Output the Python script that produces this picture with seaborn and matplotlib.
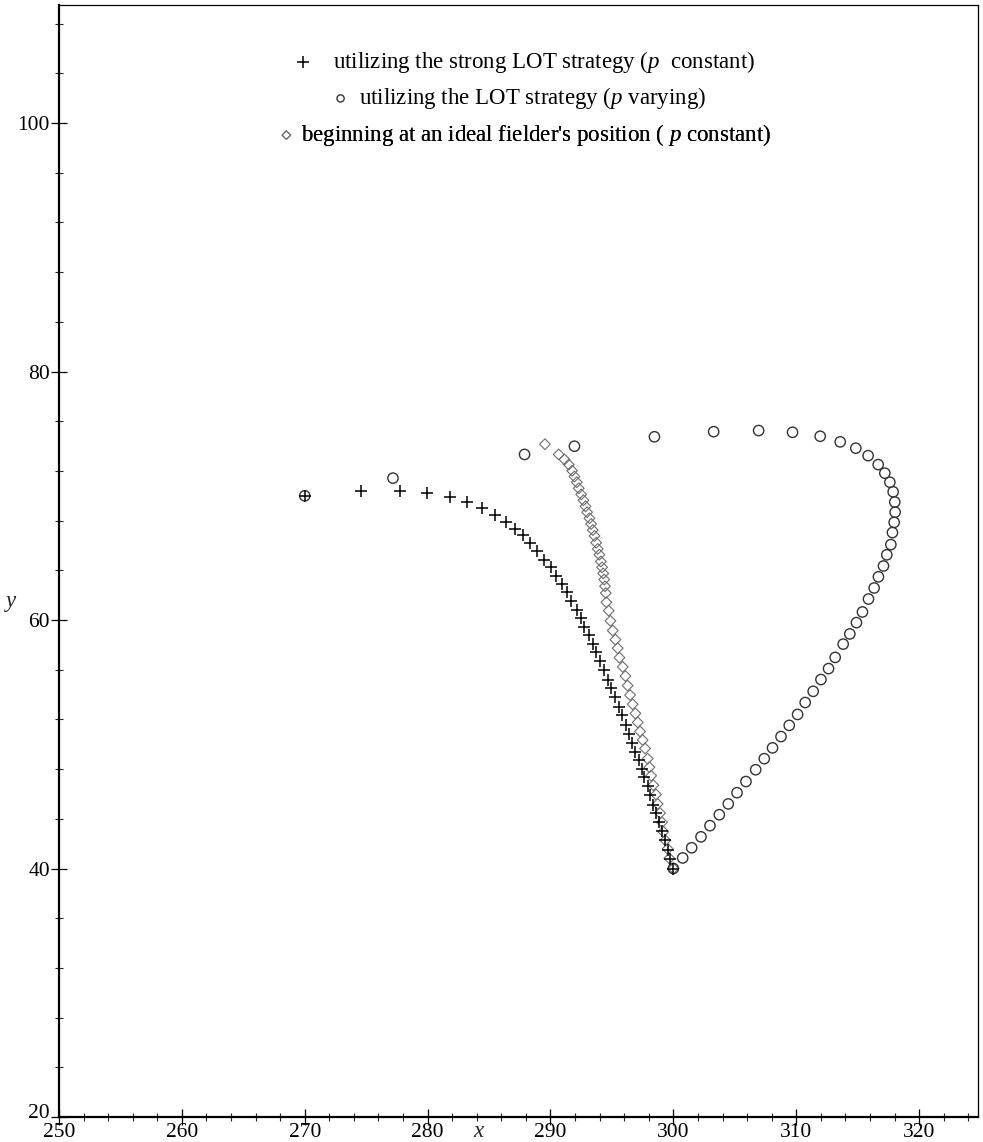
import matplotlib
matplotlib.use("Agg")
import matplotlib.pyplot as plt
import matplotlib.transforms as mtransforms
from matplotlib.ticker import MultipleLocator
import seaborn as sns

# strong LOT strategy, p constant
plus_x = [270.0, 274.55, 277.72, 279.97, 281.79, 283.23, 284.39, 285.45, 286.34, 287.10,
          287.75, 288.35, 288.94, 289.49, 290.02, 290.46, 290.95, 291.33, 291.68, 292.14,
          292.50, 292.76, 293.17, 293.44, 293.72, 294.07, 294.39, 294.72, 294.93, 295.28,
          295.55, 295.83, 296.15, 296.37, 296.64, 296.91, 297.18, 297.45, 297.59, 297.91,
          298.11, 298.32, 298.59, 298.80, 299.08, 299.35, 299.54, 299.73, 300.0]
plus_y = [70.0, 70.38, 70.38, 70.19, 69.92, 69.50, 69.00, 68.46, 67.91, 67.36,
          66.82, 66.21, 65.53, 64.84, 64.24, 63.56, 62.92, 62.24, 61.51, 60.80,
          60.14, 59.43, 58.77, 58.06, 57.41, 56.69, 55.95, 55.21, 54.51, 53.77,
          53.03, 52.32, 51.58, 50.84, 50.12, 49.38, 48.70, 48.02, 47.33, 46.65,
          45.91, 45.15, 44.46, 43.78, 43.01, 42.27, 41.45, 40.76, 40.0]

# LOT strategy, p varying
circ_x = [270.0, 277.18, 287.89, 291.95, 298.46, 303.28, 306.94, 309.70, 311.95, 313.58,
          314.85, 315.85, 316.67, 317.21, 317.62, 317.89, 318.02, 318.05, 317.97, 317.83,
          317.70, 317.37, 317.10, 316.69, 316.34, 315.88, 315.39, 314.90, 314.36, 313.82,
          313.17, 312.63, 312.01, 311.38, 310.73, 310.11, 309.43, 308.76, 308.07, 307.40,
          306.70, 305.91, 305.18, 304.47, 303.74, 302.98, 302.25, 301.49, 300.76, 300.0]
circ_y = [70.0, 71.42, 73.33, 73.99, 74.75, 75.16, 75.25, 75.11, 74.79, 74.34,
          73.83, 73.23, 72.51, 71.82, 71.09, 70.32, 69.50, 68.68, 67.86, 67.04,
          66.07, 65.25, 64.35, 63.48, 62.58, 61.69, 60.65, 59.79, 58.88, 58.06,
          56.99, 56.09, 55.21, 54.26, 53.36, 52.40, 51.52, 50.62, 49.71, 48.84,
          47.95, 47.00, 46.10, 45.20, 44.33, 43.45, 42.55, 41.67, 40.85, 40.0]

# beginning at an ideal fielder's position, p constant
diam_x = [289.55, 290.67, 291.14, 291.49, 291.76, 291.95, 292.14, 292.30, 292.50, 292.68,
          292.85, 292.98, 293.17, 293.31, 293.44, 293.58, 293.72, 293.85, 293.98, 294.10,
          294.20, 294.29, 294.37, 294.44, 294.50, 294.55, 294.74, 294.88, 295.07, 295.28,
          295.47, 295.61, 295.88, 296.10, 296.28, 296.48, 296.69, 296.91, 297.10, 297.29,
          297.50, 297.70, 297.91, 298.05, 298.19, 298.37, 298.59, 298.72, 298.92, 299.08,
          299.19, 299.35, 299.54, 299.67, 300.0]
diam_y = [74.15, 73.33, 72.92, 72.51, 72.02, 71.55, 71.09, 70.60, 70.11, 69.64,
          69.15, 68.68, 68.19, 67.73, 67.24, 66.77, 66.22, 65.72, 65.26, 64.71,
          64.24, 63.75, 63.26, 62.72, 62.17, 61.43, 60.75, 59.93, 59.15, 58.42,
          57.73, 56.97, 56.23, 55.49, 54.72, 53.96, 53.22, 52.48, 51.76, 51.03,
          50.34, 49.66, 48.84, 48.15, 47.47, 46.71, 45.96, 45.20, 44.46, 43.72,
          42.96, 42.27, 41.58, 40.82, 40.0]

labels = ["utilizing the strong LOT strategy ($p$  constant)",
          "utilizing the LOT strategy ($p$ varying)",
          "beginning at an ideal fielder's position ( $p$ constant)"]

sns.set_style("ticks")
plt.rcParams["font.family"] = ["Liberation Serif", "DejaVu Serif"]
plt.rcParams["mathtext.fontset"] = "custom"
plt.rcParams["mathtext.rm"] = "Liberation Serif"
plt.rcParams["mathtext.it"] = "Liberation Serif:italic"
plt.rcParams["text.color"] = "black"

fig = plt.figure(figsize=(9.83, 11.42), dpi=100)
ax = fig.add_axes([0.060, 0.0219, 0.935, 0.9737])

sns.scatterplot(x=diam_x, y=diam_y, marker="D", s=30, facecolor="none",
                edgecolor="#6e6e6e", linewidth=0.8, ax=ax, legend=False, zorder=2)
sns.scatterplot(x=circ_x, y=circ_y, marker="o", s=55, facecolor="none",
                edgecolor="#333333", linewidth=1.0, ax=ax, legend=False, zorder=3)
sns.scatterplot(x=plus_x, y=plus_y, marker="+", s=72, color="black",
                linewidth=1.1, ax=ax, legend=False, zorder=4)

h_diam, h_circ, h_plus = ax.collections[:3]

ax.set_xlim(250, 324.8)
ax.set_ylim(20, 109.5)
ax.xaxis.set_major_locator(MultipleLocator(10))
ax.xaxis.set_minor_locator(MultipleLocator(2))
ax.yaxis.set_major_locator(MultipleLocator(20))
ax.yaxis.set_minor_locator(MultipleLocator(4))
ax.tick_params(axis="both", which="major", direction="inout", length=11, width=0.9,
               labelsize=15.5, color="black", labelcolor="black")
ax.tick_params(axis="both", which="minor", direction="inout", length=6, width=0.8)
ax.tick_params(axis="x", which="major", pad=-1)
ax.tick_params(axis="y", which="major", pad=1)

# lift the "20" label a little so it clears the "250" below it
ylocs = list(ax.yaxis.get_majorticklocs())
yticks = ax.yaxis.get_major_ticks(len(ylocs))
for loc, tick in zip(ylocs, yticks):
    if abs(loc - 20) < 1e-6:
        lab = tick.label1
        lab.set_transform(lab.get_transform() +
                          mtransforms.ScaledTranslation(0, 4 / 72, fig.dpi_scale_trans))

for side in ["left", "bottom"]:
    ax.spines[side].set_linewidth(1.6)
for side in ["top", "right"]:
    ax.spines[side].set_linewidth(0.9)
for s in ax.spines.values():
    s.set_color("black")

ax.set_xlabel("x", fontsize=16.5, style="italic")
ax.xaxis.set_label_coords(0.456, -0.004)
ax.set_ylabel("y", fontsize=16.5, style="italic", rotation=0, ha="center", va="center")
ax.yaxis.set_label_coords(-0.052, 0.464)

# legend: one centered line per series
leg_specs = [(h_plus, labels[0], 0.505, 0.949, 1.0, 0.8),
             (h_circ, labels[1], 0.499, 0.916, 0.7, 0.3),
             (h_diam, labels[2], 0.505, 0.883, 0.8, 0.15)]
for handle, text, lx, ly, mscale, pad in leg_specs:
    leg = ax.legend(handles=[handle], labels=[text], loc="center",
                    bbox_to_anchor=(lx, ly), frameon=False, fontsize=16.5,
                    handlelength=1.0, handletextpad=pad, markerscale=mscale,
                    borderpad=0, borderaxespad=0)
    ax.add_artist(leg)

fig.savefig("out.png", dpi=100, facecolor="white")
